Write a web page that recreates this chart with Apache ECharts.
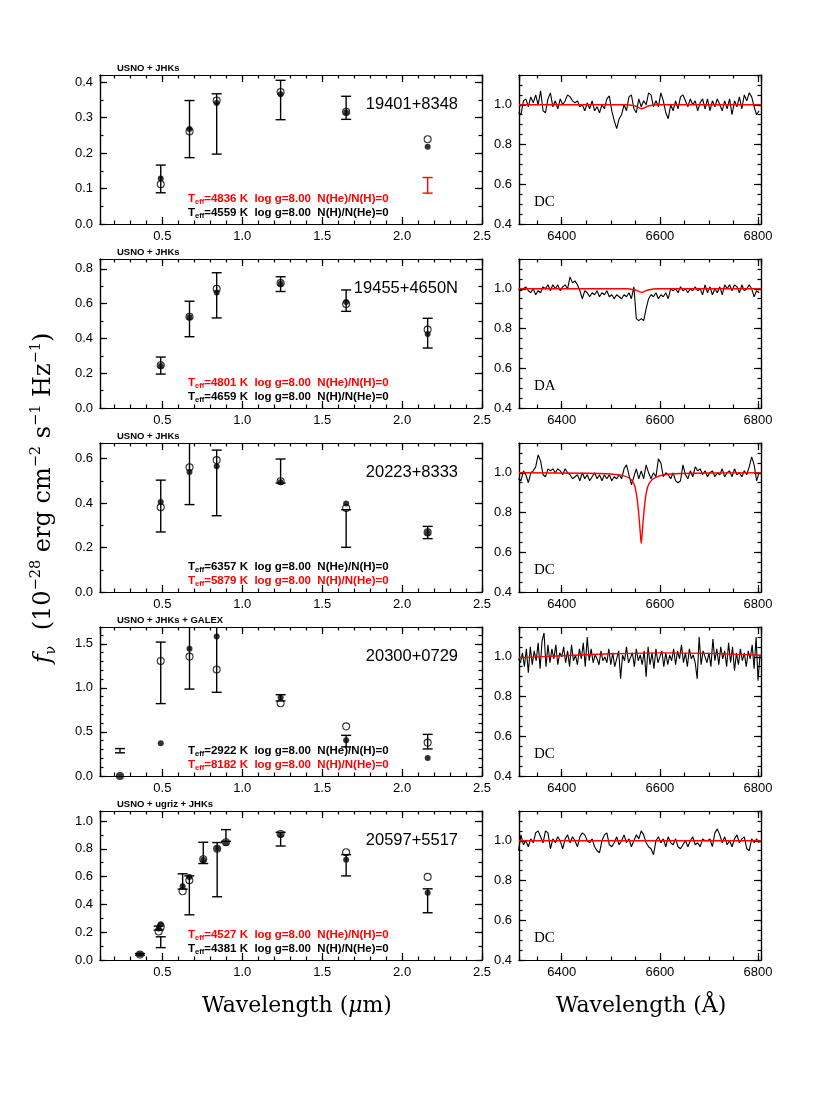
<!DOCTYPE html>
<html>
<head>
<meta charset="utf-8">
<script src="https://cdn.jsdelivr.net/npm/echarts@6/dist/echarts.min.js"></script>
<style>
html, body { margin: 0; background: #fff; }
#chart { width: 830px; height: 1106px; }
</style>
</head>
<body>
<div id="chart"></div>
<script>
// ---------- data ----------
var starNames = ['19401+8348', '19455+4650N', '20223+8333', '20300+0729', '20597+5517'];
var surveys = ['USNO + JHKs', 'USNO + JHKs', 'USNO + JHKs', 'USNO + JHKs + GALEX', 'USNO + ugriz + JHKs'];
var spTypes = ['DC', 'DA', 'DC', 'DC', 'DC'];
// fit legends: [Teff, abundance text, colour] in drawing order (top line first)
var fitLines = [
	[['4836', 'N(He)/N(H)=0', 'red'], ['4559', 'N(H)/N(He)=0', 'black']],
	[['4801', 'N(He)/N(H)=0', 'red'], ['4659', 'N(H)/N(He)=0', 'black']],
	[['6357', 'N(He)/N(H)=0', 'black'], ['5879', 'N(H)/N(He)=0', 'red']],
	[['2922', 'N(He)/N(H)=0', 'black'], ['8182', 'N(H)/N(He)=0', 'red']],
	[['4527', 'N(He)/N(H)=0', 'red'], ['4381', 'N(H)/N(He)=0', 'black']]
];

// photometry, micron
var wave1 = [0.49, 0.67, 0.84, 1.24, 1.65, 2.16];
var lo1 = [0.088, 0.187, 0.197, 0.294, 0.295, null];
var hi1 = [0.166, 0.348, 0.367, 0.405, 0.360, null];
var redLo1 = [null, null, null, null, null, 0.087];
var redHi1 = [null, null, null, null, null, 0.131];
var modH1 = [0.128, 0.268, 0.341, 0.366, 0.314, 0.218];
var modHe1 = [0.112, 0.261, 0.348, 0.372, 0.316, 0.239];

var wave2 = [0.49, 0.67, 0.84, 1.24, 1.65, 2.16];
var lo2 = [0.195, 0.410, 0.518, 0.670, 0.556, 0.345];
var hi2 = [0.293, 0.614, 0.778, 0.755, 0.679, 0.516];
var modH2 = [0.242, 0.522, 0.664, 0.714, 0.609, 0.425];
var modHe2 = [0.246, 0.525, 0.686, 0.718, 0.598, 0.451];

var wave3 = [0.49, 0.67, 0.84, 1.24, 1.65, 2.16];
var lo3 = [0.270, 0.393, 0.343, 0.490, 0.201, 0.240];
var hi3 = [0.503, 0.750, 0.638, 0.598, 0.370, 0.295];
var modH3 = [0.405, 0.540, 0.565, 0.493, 0.398, 0.266];
var modHe3 = [0.381, 0.561, 0.593, 0.498, 0.378, 0.268];

var wave4 = [0.235, 0.49, 0.67, 0.84, 1.24, 1.65, 2.16];
var lo4 = [0.263, 0.821, 0.986, 0.949, 0.851, 0.330, 0.307];
var hi4 = [0.311, 1.519, 1.850, 1.750, 0.922, 0.461, 0.472];
var modH4 = [0.000, 0.371, 1.444, 1.583, 0.889, 0.405, 0.203];
var modHe4 = [0.000, 1.305, 1.354, 1.208, 0.825, 0.563, 0.379];

var wave5 = [0.36, 0.477, 0.49, 0.627, 0.669, 0.756, 0.843, 0.898, 1.24, 1.65, 2.16];
var lo5 = [0.035, 0.215, 0.089, 0.510, 0.325, 0.694, 0.455, 0.854, 0.820, 0.605, 0.340];
var hi5 = [0.047, 0.244, 0.167, 0.620, 0.605, 0.847, 0.845, 0.938, 0.919, 0.758, 0.512];
var modH5 = [0.041, 0.227, 0.258, 0.531, 0.598, 0.720, 0.801, 0.842, 0.902, 0.722, 0.483];
var modHe5 = [0.040, 0.205, 0.240, 0.495, 0.574, 0.725, 0.800, 0.847, 0.907, 0.775, 0.598];

// spectra (normalised flux), sampled from 6312 A with a fixed step
var specStart = 6312;
var specStep = [5, 5, 5, 4, 5];
var flux1 = [0.96,0.95,1.02,1.03,0.99,1.04,1.01,1.05,1.00,1.07,0.97,0.96,1.03,1.06,0.99,1.02,0.98,1.03,1.00,1.02,
	1.05,1.04,1.02,1.01,1.02,0.99,1.00,0.97,1.01,0.98,1.02,0.97,0.99,0.96,1.00,0.98,1.03,1.045,0.97,0.92,
	0.88,0.93,0.95,1.00,0.97,1.04,1.05,0.98,0.96,1.03,0.99,1.02,1.00,1.06,1.05,0.99,1.02,0.99,1.06,1.02,
	0.96,0.93,1.00,0.97,1.02,0.98,1.04,1.05,1.02,0.99,1.03,1.00,1.02,0.97,1.01,1.03,0.98,1.03,0.97,1.02,
	0.99,1.03,1.00,0.97,1.02,0.98,1.03,0.95,1.02,0.99,1.04,0.98,1.05,1.02,1.06,1.04,0.99,0.95,0.97];
var flux2 = [1.00,0.99,1.00,1.01,0.99,0.98,1.00,0.97,0.99,0.98,1.01,1.00,1.02,0.99,1.02,1.00,1.02,0.99,1.01,1.02,
	1.00,1.06,1.03,1.04,1.02,0.99,0.95,0.99,0.98,0.96,0.98,0.97,0.99,0.96,0.98,0.97,0.99,0.96,0.97,0.95,
	0.97,0.96,0.95,0.97,0.96,0.98,0.95,1.01,0.85,0.84,0.85,0.84,0.90,0.95,0.97,0.96,0.98,0.95,0.97,0.96,
	0.98,0.95,1.00,0.99,1.00,0.98,1.01,0.99,1.00,0.98,1.00,0.99,1.01,0.99,1.00,0.97,1.02,0.98,1.01,0.97,
	1.00,0.98,1.01,0.97,1.02,1.00,1.02,0.99,1.02,1.01,0.98,1.02,0.99,1.00,1.02,1.00,0.96,0.99,0.98];
var flux3 = [0.97,0.96,1.01,0.99,0.95,1.00,1.01,1.03,1.09,1.06,0.99,0.98,1.02,1.01,1.02,1.00,1.02,1.01,0.99,1.02,
	1.00,0.99,0.97,0.98,0.99,0.96,1.00,0.97,0.99,0.96,0.98,1.00,0.97,0.99,0.96,0.99,0.97,0.99,0.96,0.98,
	0.97,0.99,0.97,1.02,1.04,0.99,0.94,0.98,1.02,0.97,1.01,0.97,1.04,1.00,0.97,1.00,0.98,1.07,1.05,0.98,
	1.00,0.99,0.97,1.00,0.96,0.95,0.96,1.04,0.99,0.97,1.01,0.98,1.03,1.01,1.02,0.99,1.01,0.98,1.00,1.01,
	0.98,1.00,0.99,1.02,0.98,1.00,1.01,0.98,1.02,0.99,1.00,0.98,1.01,0.99,1.03,1.08,1.04,0.96,1.00];
var flux4 = [0.99,0.97,1.02,0.95,1.04,0.92,1.05,0.96,1.03,0.98,1.07,0.94,1.08,1.12,0.95,1.06,0.97,1.04,0.99,1.06,
	0.96,1.02,1.00,1.05,0.97,1.03,0.95,1.06,0.98,1.01,0.96,1.04,0.99,1.07,0.95,1.10,0.98,1.04,0.97,1.01,
	0.99,0.96,1.03,0.98,1.00,0.97,1.04,0.96,1.02,0.95,0.99,1.03,0.89,1.01,0.98,1.05,0.97,0.97,1.02,0.95,
	1.04,0.98,1.01,0.96,1.03,0.90,1.05,0.96,1.02,0.94,1.04,0.97,1.00,1.03,0.95,1.02,0.96,1.01,0.98,1.04,
	0.96,1.03,0.99,1.06,0.97,1.02,0.95,1.04,0.99,1.01,0.97,0.89,1.10,0.96,1.03,1.00,0.97,1.02,0.95,1.09,
	0.98,1.04,0.96,1.05,0.99,1.03,0.95,1.07,0.97,1.05,0.93,1.02,0.96,1.04,0.98,1.02,0.95,1.03,0.99,1.06,
	0.94,1.10,0.88,1.01];
var flux5 = [0.95,1.03,0.98,1.00,0.97,1.01,0.99,1.04,1.05,1.02,0.99,1.05,1.04,0.96,1.01,0.99,1.02,1.00,0.96,1.01,
	1.03,0.99,1.02,1.00,0.97,1.02,1.04,1.03,1.00,0.99,1.01,0.97,0.95,0.94,1.00,1.03,1.04,0.98,0.97,0.99,
	1.02,0.98,1.00,1.03,0.99,1.01,0.97,1.00,1.03,1.01,1.05,1.03,0.99,0.97,0.96,0.93,1.00,1.02,0.99,1.01,
	0.97,1.02,0.99,0.98,1.01,0.97,0.96,0.98,1.00,0.97,1.00,1.02,0.98,0.99,0.97,1.01,1.00,1.00,1.01,0.97,
	1.04,1.06,1.03,0.99,1.02,0.98,1.00,0.97,1.01,1.03,0.99,1.01,1.02,0.96,0.95,1.01,0.99,1.01,0.99];

// model spectra (red), [wavelength, flux]
var model1 = [[6313,1.0],[6530,1.0],[6548,0.995],[6556,0.987],[6563,0.98],[6570,0.987],[6578,0.995],[6595,1.0],[6806,1.0]];
var model2 = [[6313,1.0],[6530,1.0],[6548,0.995],[6556,0.988],[6563,0.982],[6570,0.988],[6578,0.995],[6595,1.0],[6806,1.0]];
var model3 = [[6313,1.0],[6450,0.998],[6500,0.994],[6525,0.986],[6540,0.97],[6548,0.94],[6553,0.88],[6557,0.79],
	[6560,0.70],[6562,0.645],[6564,0.70],[6567,0.79],[6571,0.88],[6576,0.935],[6584,0.965],[6600,0.985],
	[6630,0.995],[6700,0.999],[6806,1.0]];
var model4 = [[6313,0.996],[6400,1.005],[6500,1.015],[6600,1.02],[6700,1.017],[6806,1.008]];
var model5 = [[6313,1.0],[6806,1.0]];

var photometry = [
	{w: wave1, lo: lo1, hi: hi1, h: modH1, he: modHe1, redLo: redLo1, redHi: redHi1},
	{w: wave2, lo: lo2, hi: hi2, h: modH2, he: modHe2},
	{w: wave3, lo: lo3, hi: hi3, h: modH3, he: modHe3},
	{w: wave4, lo: lo4, hi: hi4, h: modH4, he: modHe4},
	{w: wave5, lo: lo5, hi: hi5, h: modH5, he: modHe5}
];
var spectra = [flux1, flux2, flux3, flux4, flux5];
var models = [model1, model2, model3, model4, model5];

// axis ranges
var fluxMax = [0.42, 0.857, 0.67, 1.69, 1.072];
var fluxMajor = [0.1, 0.2, 0.2, 0.5, 0.2];
var fluxMinor = [0.05, 0.1, 0.1, 0.1, 0.1];

// ---------- layout ----------
var rowTop = [75, 259, 443, 627, 811];
var rowH = 149;
var sans = 'Liberation Sans, Arial, Helvetica, sans-serif';
var serif = 'DejaVu Serif, serif';

var grids = [], xAxes = [], yAxes = [], series = [], graphics = [];

function makeAxis(gi, pos, r, step, tickLen, withLabel) {
	var ax = {
		gridIndex: gi, type: 'value', position: pos,
		min: r.min, max: r.max, minInterval: step, maxInterval: step,
		axisLine: {show: true, onZero: false, lineStyle: {color: '#000', width: 1.2}},
		axisTick: {show: true, inside: true, length: tickLen, lineStyle: {color: '#000', width: 1.2}},
		splitLine: {show: false},
		axisLabel: {show: false}
	};
	if (withLabel) {
		ax.axisLabel = {
			show: true, color: '#000', fontFamily: sans, fontSize: 13, margin: r.margin,
			showMinLabel: r.showMin, showMaxLabel: r.showMax, formatter: r.fmt
		};
	}
	return ax;
}

// major + minor ticks on all four sides of a panel
function addAxes(gi, xr, yr) {
	var xi = xAxes.length, yi = yAxes.length;
	['bottom', 'top'].forEach(function (pos) {
		xAxes.push(makeAxis(gi, pos, xr, xr.major, 7, pos === 'bottom'));
		xAxes.push(makeAxis(gi, pos, xr, xr.minor, 3.5, false));
	});
	['left', 'right'].forEach(function (pos) {
		yAxes.push(makeAxis(gi, pos, yr, yr.major, 7, pos === 'left'));
		yAxes.push(makeAxis(gi, pos, yr, yr.minor, 3.5, false));
	});
	return [xi, yi];
}

function errorBars(xi, yi, xs, lo, hi, color) {
	var data = [];
	xs.forEach(function (x, k) {
		if (lo[k] != null) data.push([x, lo[k], hi[k]]);
	});
	return {
		type: 'custom', xAxisIndex: xi, yAxisIndex: yi, clip: true, z: 2,
		data: data, encode: {x: 0, y: [1, 2]},
		renderItem: function (params, api) {
			var a = api.coord([api.value(0), api.value(1)]);
			var b = api.coord([api.value(0), api.value(2)]);
			var w = 5;
			return {
				type: 'group',
				children: [
					{type: 'line', shape: {x1: a[0], y1: a[1], x2: b[0], y2: b[1]}, style: {stroke: color, lineWidth: 1.4}},
					{type: 'line', shape: {x1: a[0] - w, y1: a[1], x2: a[0] + w, y2: a[1]}, style: {stroke: color, lineWidth: 1.4}},
					{type: 'line', shape: {x1: b[0] - w, y1: b[1], x2: b[0] + w, y2: b[1]}, style: {stroke: color, lineWidth: 1.4}}
				]
			};
		}
	};
}

function pairs(xs, ys) {
	var out = [];
	xs.forEach(function (x, k) {
		if (ys[k] != null) out.push([x, ys[k]]);
	});
	return out;
}

var fmt1 = function (v) { return v.toFixed(1); };
var fmt0 = function (v) { return String(Math.round(v)); };

for (var r = 0; r < 5; r++) {
	var y0 = rowTop[r];
	// left: photometry
	var gL = grids.length;
	grids.push({left: 100, top: y0, width: 382, height: rowH});
	var ixL = addAxes(gL,
		{min: 0.11, max: 2.5, major: 0.5, minor: 0.1, fmt: fmt1, showMin: false, showMax: true, margin: 6},
		{min: 0, max: fluxMax[r], major: fluxMajor[r], minor: fluxMinor[r], fmt: fmt1, showMin: true, showMax: false, margin: 7});
	var p = photometry[r];
	series.push(errorBars(ixL[0], ixL[1], p.w, p.lo, p.hi, '#000'));
	if (p.redLo) series.push(errorBars(ixL[0], ixL[1], p.w, p.redLo, p.redHi, '#ff0000'));
	series.push({
		type: 'scatter', xAxisIndex: ixL[0], yAxisIndex: ixL[1], z: 3,
		symbol: 'circle', symbolSize: 7, itemStyle: {color: 'rgba(0,0,0,0)', borderColor: '#000', borderWidth: 1.1},
		data: pairs(p.w, p.he)
	});
	series.push({
		type: 'scatter', xAxisIndex: ixL[0], yAxisIndex: ixL[1], z: 4,
		symbol: 'circle', symbolSize: 6, itemStyle: {color: '#000'},
		data: pairs(p.w, p.h)
	});

	// right: spectrum
	var gR = grids.length;
	grids.push({left: 519, top: y0, width: 242, height: rowH});
	var ixR = addAxes(gR,
		{min: 6313, max: 6806, major: 200, minor: 50, fmt: fmt0, showMin: false, showMax: false, margin: 6},
		{min: 0.4, max: 1.15, major: 0.2, minor: 0.05, fmt: fmt1, showMin: true, showMax: false, margin: 7});
	var spec = spectra[r].map(function (f, k) { return [specStart + k * specStep[r], f]; });
	series.push({
		type: 'line', xAxisIndex: ixR[0], yAxisIndex: ixR[1], symbol: 'none', z: 2,
		lineStyle: {color: '#000', width: 1.1}, data: spec
	});
	series.push({
		type: 'line', xAxisIndex: ixR[0], yAxisIndex: ixR[1], symbol: 'none', z: 3, smooth: 0.3,
		lineStyle: {color: '#ff0000', width: 1.4}, data: models[r]
	});

	// annotations
	graphics.push({type: 'text', x: 117, y: y0 - 6.5, style: {
		text: surveys[r], fontFamily: sans, fontWeight: 'bold', fontSize: 9.5, fill: '#000', verticalAlign: 'middle'}});
	graphics.push({type: 'text', x: 458, y: y0 + 29.5, style: {
		text: starNames[r], fontFamily: sans, fontSize: 16.5, fill: '#000', align: 'right', verticalAlign: 'middle'}});
	fitLines[r].forEach(function (f, k) {
		var col = f[2] === 'red' ? '#ff0000' : '#000';
		graphics.push({type: 'text', x: 188, y: y0 + 124 + k * 13.5, style: {
			text: 'T{s|eff}=' + f[0] + ' K  log g=8.00  ' + f[1],
			fontFamily: sans, fontWeight: 'bold', fontSize: 11.5, fill: col, verticalAlign: 'middle', lineHeight: 14,
			rich: {s: {fontFamily: sans, fontWeight: 'bold', fontSize: 7.5, fill: col, verticalAlign: 'bottom', lineHeight: 9}}
		}});
	});
	graphics.push({type: 'text', x: 534, y: y0 + 127, style: {
		text: spTypes[r], fontFamily: 'Liberation Serif, Times New Roman, serif', fontSize: 15, fill: '#000', verticalAlign: 'middle'}});
}

// axis titles
graphics.push({type: 'text', x: 297, y: 1006, style: {
	text: 'Wavelength ({i|μ}m)', fontFamily: serif, fontSize: 22, fill: '#000', align: 'center', verticalAlign: 'middle',
	rich: {i: {fontFamily: serif, fontSize: 22, fontStyle: 'italic', fill: '#000'}}}});
graphics.push({type: 'text', x: 641, y: 1006, style: {
	text: 'Wavelength (Å)', fontFamily: serif, fontSize: 22, fill: '#000', align: 'center', verticalAlign: 'middle'}});
graphics.push({type: 'text', x: 44, y: 498, rotation: Math.PI / 2, style: {
	text: '{i|f}{sub|ν}  (10{sup|−28} erg cm{sup|−2} s{sup|−1} Hz{sup|−1})',
	fontFamily: serif, fontSize: 24, fill: '#000', align: 'center', verticalAlign: 'middle', lineHeight: 30,
	rich: {
		i: {fontFamily: serif, fontSize: 24, fontStyle: 'italic', fill: '#000', lineHeight: 30},
		sup: {fontFamily: serif, fontSize: 14.5, fill: '#000', verticalAlign: 'top', lineHeight: 14},
		sub: {fontFamily: serif, fontSize: 14.5, fill: '#000', verticalAlign: 'bottom', lineHeight: 14}
	}}});

var option = {
	backgroundColor: '#fff',
	animation: false,
	grid: grids,
	xAxis: xAxes,
	yAxis: yAxes,
	series: series,
	graphic: graphics
};

var myChart = echarts.init(document.getElementById('chart'));
myChart.setOption(option);
</script>
</body>
</html>
